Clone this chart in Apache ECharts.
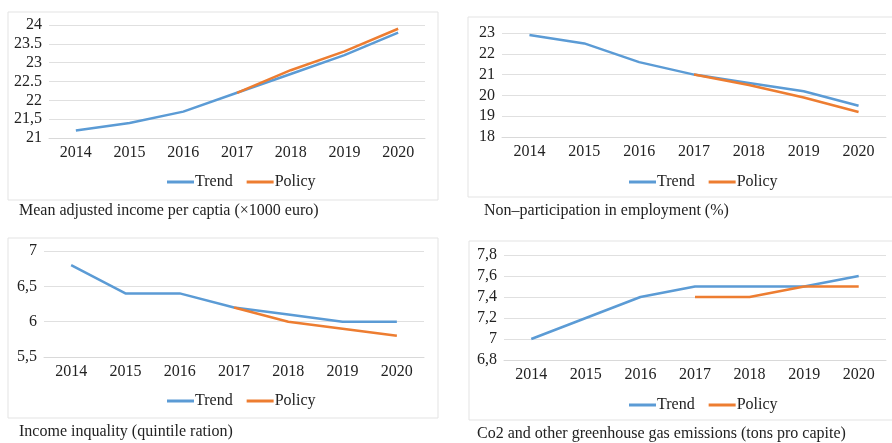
<!DOCTYPE html>
<html><head><meta charset="utf-8">
<script src="https://cdn.jsdelivr.net/npm/echarts@6/dist/echarts.min.js"></script>
<style>html,body{margin:0;padding:0;background:#fff}#c{width:892px;height:443px}</style>
</head><body><div id="c"></div>
<script>
const years = ['2014','2015','2016','2017','2018','2019','2020'];
// Panel 1: Mean adjusted income
const income_trend  = [21.2, 21.4, 21.7, 22.2, 22.7, 23.2, 23.8];
const income_policy = ['-', '-', '-', 22.2, 22.8, 23.3, 23.9];
const income_ticks  = ['21','21,5','22','22.5','23','23.5','24'];
// Panel 2: Non-participation in employment
const employ_trend  = [22.9, 22.5, 21.6, 21.0, 20.6, 20.2, 19.5];
const employ_policy = ['-', '-', '-', 21.0, 20.5, 19.9, 19.2];
const employ_ticks  = ['18','19','20','21','22','23'];
// Panel 3: Income inequality
const ineq_trend  = [6.8, 6.4, 6.4, 6.2, 6.1, 6.0, 6.0];
const ineq_policy = ['-', '-', '-', 6.2, 6.0, 5.9, 5.8];
const ineq_ticks  = ['5,5','6','6,5','7'];
// Panel 4: CO2 emissions
const co2_trend  = [7.0, 7.2, 7.4, 7.5, 7.5, 7.5, 7.6];
const co2_policy = ['-', '-', '-', 7.4, 7.4, 7.5, 7.5];
const co2_ticks  = ['6,8','7','7,2','7,4','7,6','7,8'];
const captions = [
  'Mean adjusted income per captia (\u00d71000 euro)',
  'Non\u2013participation in employment (%)',
  'Income inquality (quintile ration)',
  'Co2 and other greenhouse gas emissions (tons pro capite)'
];
const seriesNames = ['Trend','Policy'];

const FONT = 'Liberation Serif';
const BLUE = '#5B9BD5', ORANGE = '#ED7D31';
const panels = [
  {trend: income_trend, policy: income_policy, ticks: income_ticks, min: 21, max: 24, interval: 0.5,
   grid: {left: 49, right: 467, top: 25, bottom: 305}, box: [8, 12, 430, 188],
   legend: {left: 162, top: 169}, cap: {left: 19, top: 203}},
  {trend: employ_trend, policy: employ_policy, ticks: employ_ticks, min: 18, max: 23, interval: 1,
   grid: {left: 502, right: 6, top: 33, bottom: 306}, box: [468, 17, 430, 180],
   legend: {left: 624, top: 169}, cap: {left: 484, top: 203}},
  {trend: ineq_trend, policy: ineq_policy, ticks: ineq_ticks, min: 5.5, max: 7, interval: 0.5,
   grid: {left: 44, right: 468, top: 251, bottom: 86}, box: [8, 238, 430, 180],
   legend: {left: 162, top: 388}, cap: {left: 19, top: 424}},
  {trend: co2_trend, policy: co2_policy, ticks: co2_ticks, min: 6.8, max: 7.8, interval: 0.2,
   grid: {left: 504, right: 6, top: 255, bottom: 83}, box: [469, 241, 430, 179],
   legend: {left: 624, top: 392}, cap: {left: 477, top: 426}}
];

const option = {
  animation: false,
  backgroundColor: '#fff',
  textStyle: {fontFamily: FONT},
  grid: [], xAxis: [], yAxis: [], series: [], legend: [], title: [], graphic: []
};
panels.forEach((p, i) => {
  option.graphic.push({type: 'rect', shape: {x: p.box[0], y: p.box[1], width: p.box[2], height: p.box[3]},
    style: {fill: 'none', stroke: '#e3e3e3', lineWidth: 1}, z: -1});
  option.grid.push(Object.assign({containLabel: false}, p.grid));
  option.xAxis.push({type: 'category', gridIndex: i, data: years, boundaryGap: true,
    axisLine: {show: true, lineStyle: {color: '#d9d9d9', width: 1}}, axisTick: {show: false},
    axisLabel: {fontFamily: FONT, fontSize: 16, color: '#222', margin: 7}});
  option.yAxis.push({type: 'value', gridIndex: i, min: p.min, max: p.max, interval: p.interval,
    axisLine: {show: false}, axisTick: {show: false},
    splitLine: {lineStyle: {color: '#e0e0e0', width: 1}},
    axisLabel: {fontFamily: FONT, fontSize: 16, color: '#222', margin: 7,
      formatter: (v) => p.ticks[Math.round((v - p.min) / p.interval)]}});
  option.series.push({name: seriesNames[0], type: 'line', xAxisIndex: i, yAxisIndex: i, data: p.trend,
    showSymbol: false, symbol: 'none', lineStyle: {color: BLUE, width: 2.5}, itemStyle: {color: BLUE}, z: 2});
  option.series.push({name: seriesNames[1], type: 'line', xAxisIndex: i, yAxisIndex: i, data: p.policy,
    showSymbol: false, symbol: 'none', lineStyle: {color: ORANGE, width: 2.5}, itemStyle: {color: ORANGE}, z: 3});
  option.legend.push({data: seriesNames, left: p.legend.left, top: p.legend.top, icon: 'rect',
    itemWidth: 27, itemHeight: 3, itemGap: 14, selectedMode: false,
    textStyle: {fontFamily: FONT, fontSize: 16, color: '#222', padding: [0, 0, 0, -4]}});
  option.title.push({text: captions[i], left: p.cap.left, top: p.cap.top,
    textStyle: {fontFamily: FONT, fontSize: 16, fontWeight: 'normal', color: '#222'}, padding: 0});
});
const chart = echarts.init(document.getElementById('c'), null, {renderer: 'canvas'});
chart.setOption(option);
</script></body></html>
